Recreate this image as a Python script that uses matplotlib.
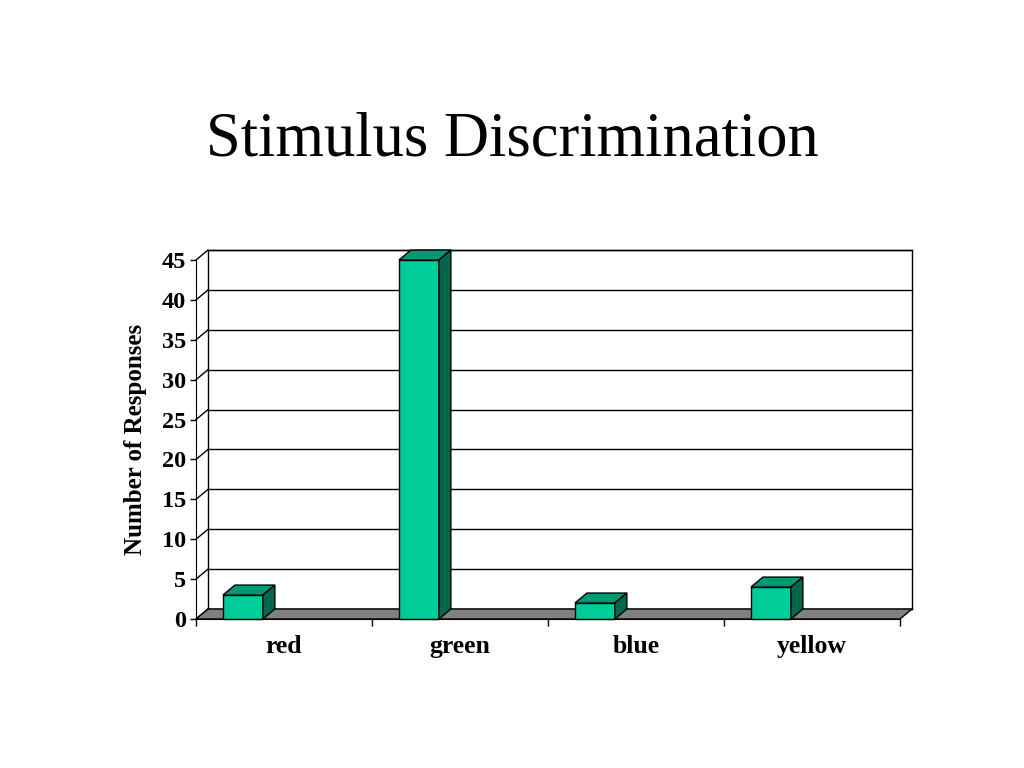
import matplotlib
matplotlib.use("Agg")
import matplotlib.pyplot as plt
from matplotlib.patches import Polygon, Rectangle

# data
categories = ["red", "green", "blue", "yellow"]
responses = [3, 45, 2, 4]
yticks = [0, 5, 10, 15, 20, 25, 30, 35, 40, 45]

front_col = "#00CC99"
top_col = "#009973"
side_col = "#00664C"
serif = ["Liberation Serif", "DejaVu Serif"]

fig = plt.figure(figsize=(10.24, 7.68), dpi=100)
ax = fig.add_axes([0.1914, 0.194, 0.6875, 0.4674])
ax.set_xlim(-0.5, 3.5)
ax.set_ylim(0, 45)
ax.set_facecolor("none")

# depth of the fake 3d box, in pixels -> data units
pos = ax.get_position()
px_x = pos.width * 1024 / 4.0
px_y = pos.height * 768 / 45.0
DX = 12 / px_x
DY = 10 / px_y

# back wall
wall = Rectangle((-0.5 + DX, DY), 4, 45, facecolor="white", edgecolor="black",
                 lw=1, clip_on=False, zorder=1)
ax.add_patch(wall)
# gridlines on the back wall and the side wall
for y in yticks:
    ax.plot([-0.5 + DX, 3.5 + DX], [y + DY, y + DY], color="black", lw=1,
            clip_on=False, zorder=2)
    ax.plot([-0.5, -0.5 + DX], [y, y + DY], color="black", lw=1,
            clip_on=False, zorder=2)

# floor
floor = Polygon([(-0.5, 0), (3.5, 0), (3.5 + DX, DY), (-0.5 + DX, DY)],
                closed=True, facecolor="#808080", edgecolor="black", lw=1,
                clip_on=False, zorder=3)
ax.add_patch(floor)

# bars
w = 0.227
xs = [i - 0.347 for i in range(len(categories))]
ax.bar(xs, responses, width=w, align="edge", color=front_col,
       edgecolor="black", lw=1, zorder=5, clip_on=False)
for x0, v in zip(xs, responses):
    x1 = x0 + w
    top = Polygon([(x0, v), (x1, v), (x1 + DX, v + DY), (x0 + DX, v + DY)],
                  closed=True, facecolor=top_col, edgecolor="black", lw=1,
                  clip_on=False, zorder=5)
    side = Polygon([(x1, 0), (x1 + DX, DY), (x1 + DX, v + DY), (x1, v)],
                   closed=True, facecolor=side_col, edgecolor="black", lw=1,
                   clip_on=False, zorder=5)
    ax.add_patch(top)
    ax.add_patch(side)

# axes styling
for s in ["top", "right"]:
    ax.spines[s].set_visible(False)
ax.spines["left"].set_zorder(6)
ax.spines["bottom"].set_zorder(6)
ax.set_yticks(yticks)
ax.set_yticklabels([str(t) for t in yticks], fontfamily=serif,
                   fontweight="bold", fontsize=17.5)
ax.tick_params(axis="y", direction="out", length=4, width=1, pad=3)
ax.set_xticks([-0.5, 0.5, 1.5, 2.5, 3.5])
ax.set_xticklabels([])
ax.tick_params(axis="x", which="major", direction="out", length=5, width=1)
ax.set_xticks(range(len(categories)), minor=True)
ax.set_xticklabels(categories, minor=True, fontfamily=serif,
                   fontweight="bold", fontsize=18.5)
ax.tick_params(axis="x", which="minor", length=0, pad=11.5)

ax.set_ylabel("Number of Responses", fontfamily=serif, fontweight="bold",
              fontsize=18, labelpad=11)

fig.text(0.5, 1 - 156 / 768, "Stimulus Discrimination", ha="center",
         va="baseline", fontsize=45, fontfamily=serif)

fig.savefig("out.png", dpi=100)
